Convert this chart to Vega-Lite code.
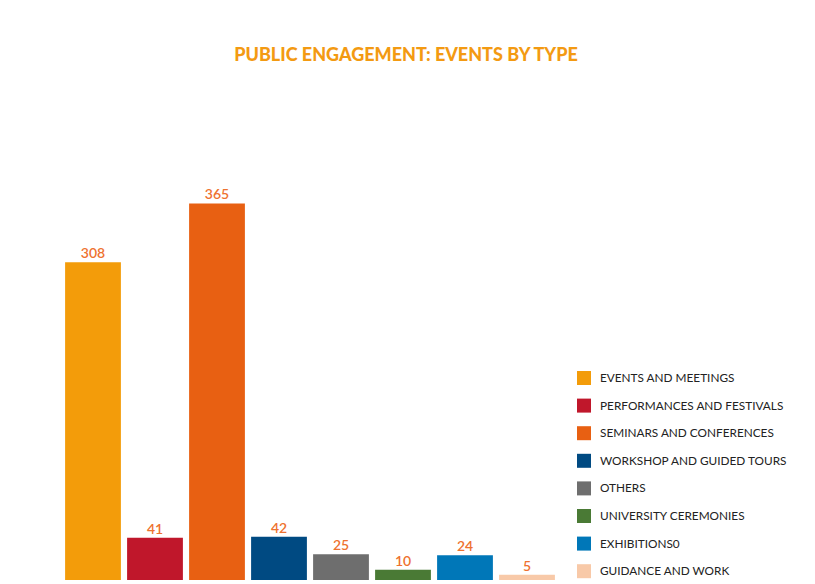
{
  "$schema": "https://vega.github.io/schema/vega-lite/v6.json",
  "width": 496,
  "height": 390,
  "autosize": "none",
  "padding": {"left": 62, "top": 190, "right": 257, "bottom": 4},
  "background": "white",
  "title": {
    "text": "PUBLIC ENGAGEMENT: EVENTS BY TYPE",
    "frame": "group",
    "anchor": "middle",
    "dx": 96,
    "offset": 123,
    "color": "#F39A12",
    "font": "Lato",
    "fontSize": 18,
    "fontWeight": 900
  },
  "config": {"view": {"stroke": null}},
  "data": {
    "values": [
      {"type": "EVENTS AND MEETINGS", "count": 308},
      {"type": "PERFORMANCES AND FESTIVALS", "count": 41},
      {"type": "SEMINARS AND CONFERENCES", "count": 365},
      {"type": "WORKSHOP AND GUIDED TOURS", "count": 42},
      {"type": "OTHERS", "count": 25},
      {"type": "UNIVERSITY CEREMONIES", "count": 10},
      {"type": "EXHIBITIONS0", "count": 24},
      {"type": "GUIDANCE AND WORK", "count": 5}
    ]
  },
  "encoding": {
    "x": {
      "field": "type",
      "type": "nominal",
      "sort": null,
      "axis": null,
      "scale": {"paddingInner": 0.1, "paddingOuter": 0.05}
    },
    "y": {
      "field": "count",
      "type": "quantitative",
      "axis": null,
      "scale": {"domain": [0, 378], "nice": false}
    }
  },
  "layer": [
    {
      "mark": {"type": "bar"},
      "encoding": {
        "color": {
          "field": "type",
          "type": "nominal",
          "sort": null,
          "scale": {
            "domain": ["EVENTS AND MEETINGS", "PERFORMANCES AND FESTIVALS", "SEMINARS AND CONFERENCES", "WORKSHOP AND GUIDED TOURS", "OTHERS", "UNIVERSITY CEREMONIES", "EXHIBITIONS0", "GUIDANCE AND WORK"],
            "range": ["#F39C0A", "#C0172B", "#E86012", "#004A82", "#6E6E6E", "#4A7A35", "#0077B8", "#F8C9A8"]
          },
          "legend": {
            "title": null,
            "orient": "none",
            "legendX": 515,
            "legendY": 181,
            "padding": 0,
            "symbolType": "square",
            "symbolSize": 196,
            "symbolStrokeWidth": 0,
            "symbolOpacity": 1,
            "rowPadding": 13.6,
            "labelOffset": 9,
            "labelFont": "Lato",
            "labelFontSize": 11.8,
            "labelColor": "#222222",
            "labelLimit": 300
          }
        }
      }
    },
    {
      "mark": {
        "type": "text",
        "baseline": "bottom",
        "dy": -1,
        "font": "Lato",
        "fontSize": 14,
        "fontWeight": 600,
        "color": "#EE7230"
      },
      "encoding": {
        "text": {"field": "count", "type": "quantitative"}
      }
    }
  ]
}
